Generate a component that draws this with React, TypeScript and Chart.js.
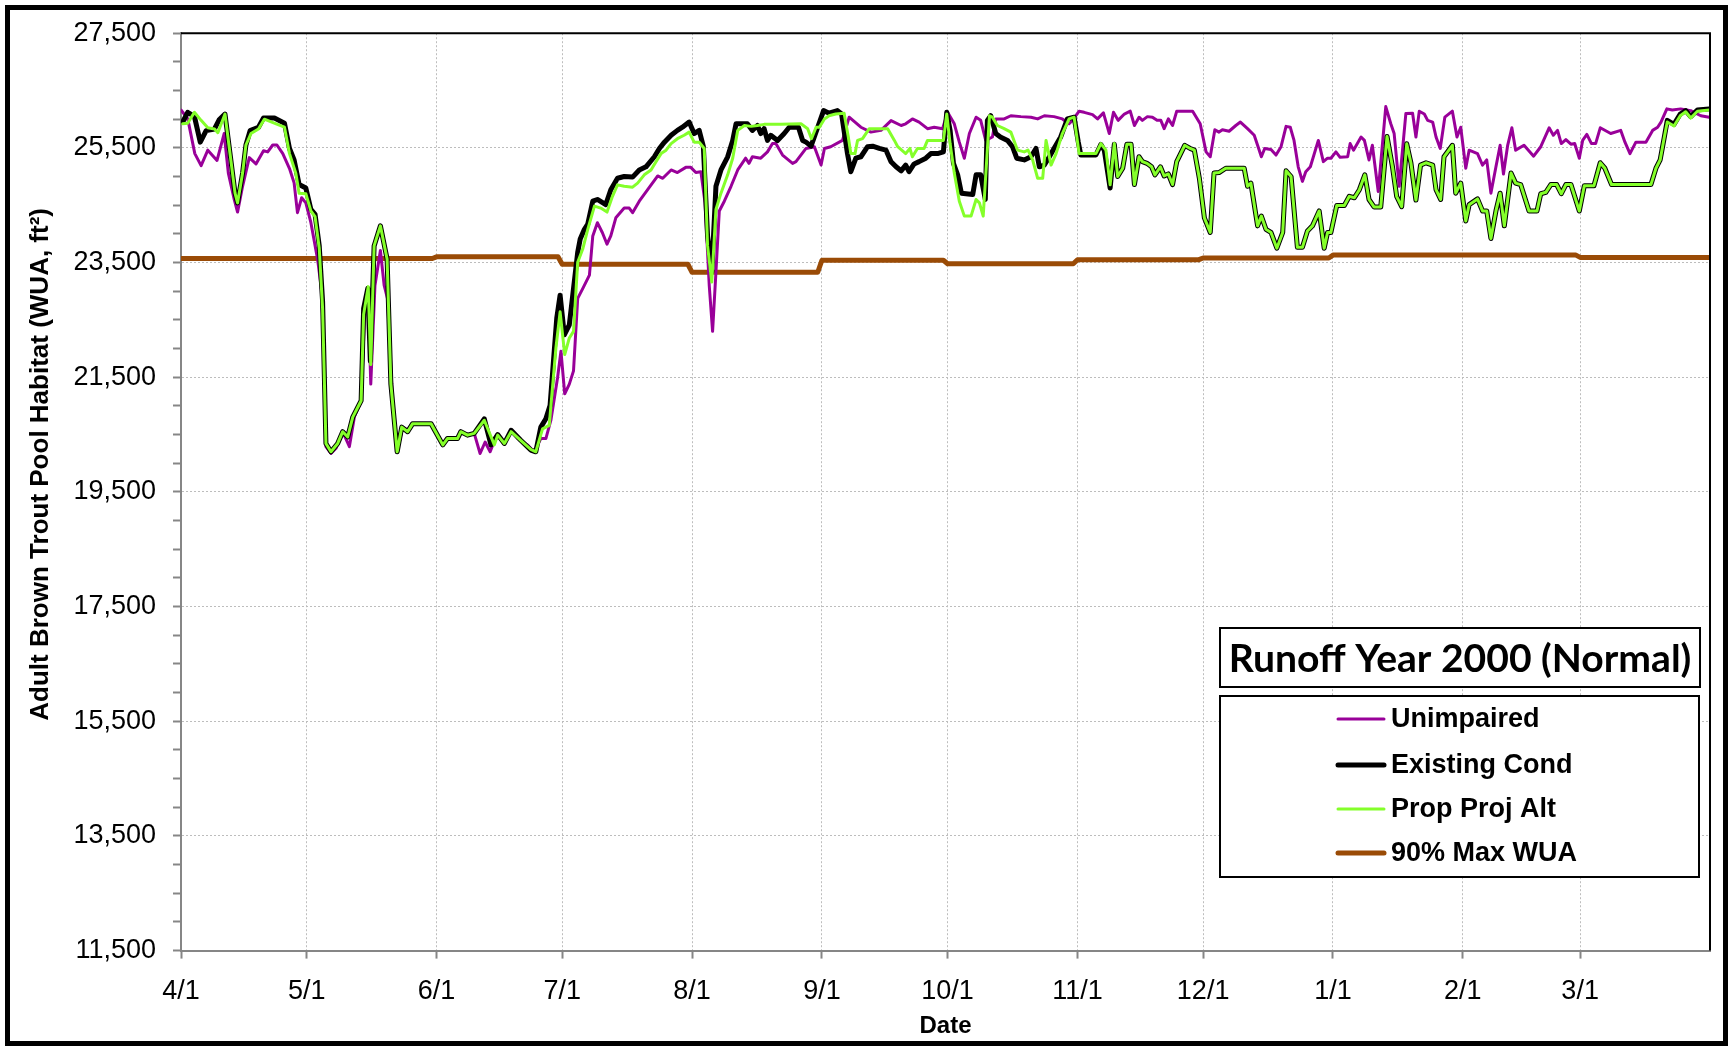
import { useEffect, useRef } from 'react';
import { Chart, registerables } from 'chart.js';

Chart.register(...registerables);

// ---------- axis definitions ----------
const monthTickDays = [0, 30, 61, 91, 122, 153, 183, 214, 244, 275, 306, 334];
const monthTickLabels = ['4/1', '5/1', '6/1', '7/1', '8/1', '9/1', '10/1', '11/1', '12/1', '1/1', '2/1', '3/1'];
const xMaxDay = 365;
const yMajorTicks = [11500, 13500, 15500, 17500, 19500, 21500, 23500, 25500, 27500];
const yMinorStep = 500;

const seriesLabels = ['Unimpaired', 'Existing Cond', 'Prop Proj Alt', '90% Max WUA'];
const seriesColors = ['#990099', '#000000', '#84ff2a', '#9a4b06'];
const seriesWidths = [3, 5, 3, 5];

// ---------- data (day offset from 4/1, WUA ft²) ----------
const unimpairedDays = [
  0, 1.6, 3.3, 4.8, 6.4, 8.6, 10.3, 11.3, 12.7, 13.5, 14.7, 16.3, 17.9, 19.7, 20.7, 21.9, 22.9, 24.3, 25.9, 27.0,
  27.8, 28.8, 29.8, 31.0, 32.6, 33.6, 34.2, 34.6, 35.8, 37.0, 38.6, 40.2, 41.4, 43.0, 43.8, 44.7, 45.3, 46.3, 47.6, 48.5,
  49.3, 50.5, 51.7, 52.9, 54.1, 55.3, 59.7, 62.5, 63.6, 66.0, 66.8, 68.4, 70.0, 71.4, 72.6, 73.8, 75.4, 77.2, 78.8, 80.4,
  82.7, 84.3, 85.9, 87.1, 88.3, 89.9, 90.7, 91.6, 92.7, 93.7, 94.7, 95.9, 97.5, 98.3, 99.4, 100.6, 101.7, 102.6, 103.8, 105.8,
  107.0, 107.8, 109.4, 111.4, 113.8, 115.0, 117.0, 118.5, 120.5, 121.7, 122.9, 124.1, 125.1, 126.1, 126.9, 127.7, 128.5, 129.7, 131.3, 132.9,
  134.8, 135.6, 136.4, 138.4, 140.0, 141.2, 142.0, 143.6, 146.0, 146.8, 149.2, 151.2, 152.8, 153.6, 155.1, 157.9, 159.5, 162.3, 164.7, 167.1,
  169.5, 171.9, 173.0, 174.6, 176.2, 178.2, 179.8, 181.8, 183.0, 184.6, 185.8, 187.0, 188.2, 189.8, 190.9, 192.1, 193.7, 194.5, 196.5, 198.1,
  200.5, 202.9, 204.5, 206.1, 208.4, 210.4, 212.0, 212.8, 214.4, 215.6, 217.6, 218.8, 220.2, 221.6, 222.6, 223.7, 225.2, 226.6, 227.6, 228.7,
  229.5, 230.7, 231.9, 233.0, 233.9, 234.7, 235.7, 236.7, 237.7, 241.5, 243.3, 244.7, 245.7, 246.8, 247.8, 248.6, 250.2, 251.8, 252.9, 254.6,
  256.2, 257.0, 257.9, 258.7, 260.2, 261.4, 262.6, 263.8, 264.8, 265.7, 266.7, 267.7, 268.5, 269.6, 271.5, 272.7, 273.7, 274.5, 275.7, 276.7,
  278.5, 279.1, 279.9, 281.7, 282.5, 283.6, 284.4, 285.8, 287.6, 288.8, 289.6, 290.8, 292.4, 294.0, 294.8, 295.6, 296.8, 297.6, 298.8, 299.6,
  300.6, 301.7, 303.5, 304.6, 305.5, 306.7, 307.5, 309.5, 310.7, 311.7, 312.7, 313.9, 314.9, 315.7, 316.7, 317.7, 318.6, 320.6, 322.9, 324.6,
  326.6, 327.6, 328.6, 329.5, 330.6, 331.8, 332.7, 333.8, 334.6, 335.6, 336.7, 337.7, 338.8, 341.3, 343.7, 344.7, 345.9, 347.3, 349.7, 351.3,
  352.5, 353.3, 354.7, 356.0, 358.0, 360.4, 362.8, 364.8,
];
const unimpairedWUA = [
  26160, 26010, 25400, 25190, 25460, 25280, 25750, 25060, 24600, 24380, 24830, 25330, 25220, 25450, 25430, 25550, 25550, 25400, 25140, 24890,
  24370, 24630, 24540, 24200, 23560, 22990, 21670, 20290, 20170, 20260, 20550, 20290, 20810, 21090, 22530, 22930, 21380, 23100, 23710, 23100,
  22870, 21090, 20230, 20630, 20580, 20690, 20690, 20320, 20430, 20430, 20550, 20490, 20520, 20170, 20370, 20200, 20500, 20345, 20575, 20430,
  20320, 20200, 20430, 20430, 20750, 21495, 21955, 21210, 21380, 21610, 22875, 23045, 23280, 23965, 24195, 24020, 23820, 23965, 24280, 24450,
  24450, 24370, 24570, 24770, 25010, 24970, 25115, 25070, 25160, 25160, 25070, 25085, 24540, 23100, 22300, 23335, 24400, 24570, 24830, 25115,
  25320, 25230, 25345, 25320, 25430, 25575, 25575, 25375, 25230, 25260, 25490, 25520, 25200, 25490, 25520, 25630, 26035, 25860, 25775, 25805,
  25975, 25890, 25920, 26005, 25950, 25835, 25860, 25835, 26120, 25920, 25600, 25320, 25750, 26035, 25980, 25630, 25690, 26005, 26005, 26060,
  26045, 26035, 26005, 26060, 26045, 26005, 25920, 25980, 26140, 26120, 26080, 26005, 26110, 25750, 26120, 25980, 26090, 26140, 25890, 26035,
  25980, 26045, 26035, 25980, 25980, 25835, 26005, 25890, 26140, 26140, 25920, 25430, 25345, 25815, 25775, 25815, 25790, 25890, 25950, 25835,
  25720, 25545, 25345, 25490, 25470, 25375, 25520, 25875, 25860, 25630, 25170, 24915, 25085, 25170, 25630, 25260, 25320, 25320, 25430, 25335,
  25345, 25575, 25460, 25690, 25630, 25290, 25545, 24740, 26220, 25920, 25750, 24830, 26100, 26105, 25690, 26140, 26090, 25980, 25950, 25690,
  25490, 26035, 26140, 25690, 25860, 25145, 25460, 25400, 25200, 25290, 24710, 25170, 25545, 25045, 25545, 25850, 25460, 25545, 25355, 25520,
  25850, 25720, 25805, 25575, 25645, 25565, 25575, 25320, 25630, 25735, 25575, 25575, 25850, 25750, 25805, 25600, 25400, 25600, 25600, 25805,
  25860, 25950, 26180, 26160, 26180, 26150, 26060, 26035,
];

const existingDays = [
  0.4, 1.6, 3.2, 4.6, 6.0, 8.0, 9.1, 10.5, 11.8, 12.9, 13.5, 14.7, 15.5, 16.5, 18.5, 19.7, 22.3, 24.7, 25.9, 27.0,
  28.2, 29.8, 31.0, 32.0, 33.0, 33.8, 34.6, 35.8, 37.4, 38.6, 39.8, 41.0, 43.0, 43.6, 44.6, 45.2, 46.1, 47.6, 49.2, 50.1,
  51.6, 52.7, 54.1, 55.3, 59.7, 62.5, 63.6, 66.0, 66.8, 68.4, 70.0, 72.4, 74.0, 75.6, 77.2, 78.8, 81.1, 83.5, 84.7, 85.9,
  87.1, 88.1, 89.7, 90.5, 91.5, 92.7, 93.7, 94.7, 95.3, 96.3, 97.1, 98.3, 99.4, 101.4, 102.6, 104.2, 105.8, 107.8, 109.4, 111.0,
  113.0, 114.2, 115.4, 117.0, 118.5, 119.7, 121.3, 122.5, 123.7, 124.7, 125.7, 126.7, 127.7, 128.9, 130.5, 131.7, 132.5, 135.2, 136.4, 137.6,
  138.4, 139.2, 140.0, 140.8, 142.4, 144.0, 145.2, 147.4, 148.4, 149.2, 150.4, 152.0, 153.4, 154.7, 156.7, 157.7, 159.1, 159.9, 161.1, 162.3,
  163.9, 165.1, 166.7, 168.3, 169.5, 170.7, 171.9, 173.0, 173.8, 175.0, 176.2, 177.8, 179.0, 180.6, 182.0, 182.8, 183.6, 184.4, 185.4, 186.3,
  189.0, 189.8, 190.9, 192.0, 192.5, 193.3, 194.5, 195.6, 197.3, 198.5, 199.5, 201.3, 202.9, 204.1, 204.9, 206.1, 207.3, 208.4, 210.0, 211.6,
  213.2, 214.2, 214.8, 218.4, 219.6, 220.4, 221.8, 222.8, 223.6, 224.8, 225.8, 226.8, 227.6, 228.7, 229.5, 230.6, 231.7, 232.5, 233.8, 234.7,
  235.7, 236.7, 237.7, 239.6, 240.9, 241.9, 243.1, 244.3, 245.7, 246.6, 247.8, 249.4, 253.8, 254.6, 255.4, 257.0, 257.9, 259.0, 260.2, 261.6,
  263.0, 263.8, 265.0, 266.5, 267.7, 268.9, 270.1, 271.7, 272.9, 273.7, 274.5, 275.9, 277.7, 278.9, 280.1, 281.3, 282.6, 283.6, 284.8, 286.4,
  287.9, 289.2, 290.2, 291.4, 292.6, 293.6, 294.8, 295.9, 297.2, 298.8, 299.6, 300.7, 301.5, 303.5, 304.3, 305.5, 306.7, 307.5, 309.5, 310.7,
  311.7, 312.7, 313.9, 314.9, 315.9, 317.5, 318.6, 319.8, 321.8, 323.7, 324.6, 325.8, 327.0, 328.4, 329.5, 330.6, 331.8, 333.8, 335.0, 337.3,
  338.8, 339.9, 341.5, 350.9, 352.1, 353.1, 354.1, 354.8, 356.4, 357.9, 359.2, 360.4, 362.0, 364.8,
];
const existingWUA = [
  25950, 26120, 26050, 25600, 25800, 25830, 25990, 26090, 25345, 24710, 24540, 25060, 25550, 25800, 25860, 26020, 26020, 25930, 25490, 25290,
  24860, 24800, 24430, 24340, 23790, 22820, 20345, 20200, 20345, 20550, 20460, 20805, 21090, 22700, 23050, 21780, 23790, 24140, 23560, 21380,
  20200, 20630, 20550, 20690, 20690, 20320, 20430, 20430, 20550, 20490, 20520, 20775, 20320, 20500, 20345, 20575, 20400, 20230, 20200, 20630,
  20775, 21005, 22530, 22930, 22240, 22415, 23045, 23680, 23910, 24080, 24170, 24570, 24600, 24510, 24770, 24970, 25000, 24990, 25115, 25170,
  25345, 25490, 25600, 25720, 25805, 25860, 25950, 25750, 25805, 25520, 23965, 23335, 24830, 25115, 25345, 25630, 25920, 25920, 25805, 25890,
  25750, 25835, 25630, 25720, 25630, 25750, 25860, 25860, 25630, 25600, 25530, 25860, 26150, 26105, 26150, 26090, 25400, 25085, 25320, 25345,
  25520, 25530, 25490, 25460, 25260, 25170, 25100, 25200, 25085, 25220, 25260, 25320, 25400, 25400, 25430, 26120, 25805, 25230, 25030, 24710,
  24685, 25030, 25030, 24600, 25980, 26060, 25750, 25690, 25630, 25520, 25320, 25290, 25345, 25490, 25170, 25200, 25345, 25490, 25690, 26005,
  26035, 25600, 25375, 25375, 25560, 25460, 24800, 25565, 25000, 25145, 25565, 25565, 24860, 25345, 25260, 25230, 25170, 25030, 25170, 25010,
  25045, 24860, 25260, 25545, 25490, 25460, 24970, 24280, 24025, 25060, 25070, 25145, 25145, 24830, 24885, 24140, 24310, 24080, 24025, 23750,
  24025, 25100, 25000, 23765, 23765, 24050, 24140, 24400, 23750, 24025, 24025, 24495, 24495, 24655, 24630, 24770, 25030, 24600, 24470, 24470,
  25700, 25170, 24655, 24475, 25570, 25240, 24590, 25200, 25240, 25200, 24770, 24600, 25345, 25545, 24710, 24885, 24225, 24510, 24610, 24400,
  24400, 23920, 24400, 24710, 24140, 25060, 24885, 24860, 24400, 24400, 24700, 24725, 24860, 24860, 24700, 24860, 24860, 24400, 24840, 24840,
  25240, 25145, 24860, 24860, 25145, 25290, 25690, 25980, 25910, 26090, 26150, 26045, 26160, 26180,
];

const propDays = [
  0.4, 1.6, 3.2, 4.8, 6.4, 8.0, 8.8, 10.5, 11.8, 12.9, 13.5, 14.7, 15.5, 16.7, 18.5, 19.9, 23.0, 24.7, 25.9, 27.4,
  28.2, 29.8, 31.0, 32.0, 33.0, 33.8, 34.6, 35.8, 37.4, 38.6, 39.8, 41.0, 43.0, 43.6, 44.7, 45.3, 46.1, 47.6, 49.2, 50.1,
  51.6, 52.7, 54.1, 55.3, 59.7, 62.5, 63.6, 66.0, 66.8, 68.4, 70.0, 72.4, 74.8, 75.6, 77.2, 78.8, 81.1, 83.5, 84.7, 86.3,
  87.9, 89.5, 90.5, 91.6, 92.7, 93.7, 94.7, 95.9, 97.1, 98.7, 100.2, 101.7, 103.0, 104.2, 105.8, 107.8, 109.0, 110.6, 112.2, 113.4,
  114.6, 115.8, 117.0, 118.5, 120.1, 121.3, 122.5, 123.7, 124.9, 125.7, 126.7, 127.7, 128.9, 130.5, 131.7, 132.9, 134.5, 136.1, 137.6, 139.2,
  143.2, 148.0, 149.6, 150.5, 151.6, 152.4, 153.6, 154.7, 156.3, 158.3, 159.3, 159.9, 160.9, 161.5, 162.7, 164.3, 168.7, 170.3, 171.1, 173.0,
  174.0, 174.6, 175.8, 177.4, 178.2, 182.0, 182.8, 183.6, 184.6, 185.8, 187.0, 188.6, 189.8, 190.6, 191.5, 193.0, 193.7, 194.9, 196.5, 198.1,
  199.7, 201.3, 202.2, 203.3, 204.5, 205.7, 206.5, 207.7, 208.9, 210.4, 212.0, 213.2, 214.4, 218.4, 219.6, 220.8, 221.8, 222.8, 223.6, 224.8,
  225.8, 226.8, 227.6, 228.7, 229.5, 230.6, 231.7, 232.5, 233.8, 234.7, 235.7, 236.7, 237.7, 239.6, 240.9, 241.9, 243.1, 244.3, 245.7, 246.6,
  247.8, 249.4, 253.8, 254.6, 255.4, 257.0, 257.9, 259.0, 260.2, 261.6, 263.0, 263.8, 265.0, 266.5, 267.7, 268.9, 270.1, 271.7, 272.9, 273.7,
  274.5, 275.9, 277.7, 278.9, 280.1, 281.3, 282.6, 283.6, 284.8, 286.4, 287.9, 289.2, 290.2, 291.4, 292.6, 293.6, 294.8, 295.9, 297.2, 298.8,
  299.6, 300.7, 301.5, 303.5, 304.3, 305.5, 306.7, 307.5, 309.5, 310.7, 311.7, 312.7, 313.9, 314.9, 315.9, 317.5, 318.6, 319.8, 321.8, 323.7,
  324.6, 325.8, 327.0, 328.4, 329.5, 330.6, 331.8, 333.8, 335.0, 337.3, 338.8, 339.9, 341.5, 350.9, 352.1, 353.1, 354.1, 354.8, 356.4, 357.9,
  359.2, 360.4, 362.0, 364.8,
];
const propWUA = [
  25920, 25930, 26120, 25980, 25850, 25830, 25765, 26090, 25345, 24710, 24540, 25060, 25550, 25750, 25830, 26000, 25910, 25860, 25400, 25060,
  24710, 24700, 24400, 24300, 23750, 22700, 20345, 20200, 20345, 20550, 20460, 20805, 21090, 22600, 23080, 21720, 23790, 24140, 23560, 21380,
  20200, 20630, 20550, 20690, 20690, 20320, 20430, 20430, 20550, 20490, 20520, 20750, 20320, 20490, 20345, 20550, 20400, 20240, 20200, 20600,
  20660, 22010, 22640, 21895, 22185, 22300, 23505, 23735, 24080, 24485, 24450, 24380, 24655, 24855, 24830, 24815, 24885, 25030, 25115, 25260,
  25400, 25460, 25575, 25660, 25720, 25775, 25600, 25600, 25490, 23790, 23160, 24425, 24710, 25030, 25320, 25805, 25890, 25875, 25890, 25910,
  25910, 25920, 25835, 25660, 25860, 25860, 26005, 26060, 26090, 26105, 25690, 25400, 25400, 25630, 25660, 25835, 25835, 25630, 25520, 25400,
  25490, 25345, 25490, 25490, 25630, 25630, 26090, 25575, 25060, 24570, 24310, 24310, 24600, 24540, 24310, 26060, 26035, 25890, 25835, 25775,
  25460, 25430, 25460, 25290, 24970, 24970, 25630, 25200, 25400, 25750, 26005, 26035, 25400, 25400, 25575, 25460, 24855, 25575, 25000, 25145,
  25565, 25565, 24860, 25345, 25260, 25230, 25170, 25030, 25170, 25010, 25045, 24860, 25260, 25545, 25490, 25460, 24970, 24280, 24025, 25060,
  25070, 25145, 25145, 24830, 24885, 24140, 24310, 24080, 24025, 23750, 24025, 25100, 25000, 23765, 23765, 24050, 24140, 24400, 23750, 24025,
  24025, 24495, 24495, 24655, 24630, 24770, 25030, 24600, 24470, 24470, 25700, 25170, 24655, 24475, 25570, 25240, 24590, 25200, 25240, 25200,
  24770, 24600, 25345, 25545, 24710, 24885, 24225, 24510, 24610, 24400, 24400, 23920, 24400, 24710, 24140, 25060, 24885, 24860, 24400, 24400,
  24700, 24725, 24860, 24860, 24700, 24860, 24860, 24400, 24840, 24840, 25240, 25145, 24860, 24860, 25145, 25290, 25690, 25950, 25880, 26060,
  26130, 26020, 26140, 26160,
];

const maxWUADays = [0, 60, 61, 90, 91, 121, 122, 152, 153, 182, 183, 213, 214, 243, 244, 274, 275, 333, 334, 364.8];
const maxWUAValues = [
  23570, 23570, 23600, 23600, 23470, 23470, 23330, 23330, 23540, 23540,
  23480, 23480, 23550, 23550, 23580, 23580, 23630, 23630, 23590, 23590,
];

const toPoints = (days: number[], vals: number[]) => days.map((d, i) => ({ x: d, y: vals[i] }));

const AXIS_FONT = "'Liberation Sans', Arial, sans-serif";
const AXIS_GRAY = '#868686';
const GRID_GRAY = '#bdbdbd';

const overlayPlugin = {
  id: 'overlay',
  afterDraw(chart: any) {
    const { ctx, chartArea: a } = chart;
    ctx.save();
    // plot area border (top & right)
    ctx.strokeStyle = '#000';
    ctx.lineWidth = 2;
    ctx.beginPath();
    ctx.moveTo(a.left, a.top);
    ctx.lineTo(a.right, a.top);
    ctx.lineTo(a.right, a.bottom);
    ctx.stroke();

    // outer chart border
    ctx.lineWidth = 5;
    ctx.strokeRect(7.5, 7.5, 1718, 1036);

    // y-axis title
    ctx.save();
    ctx.translate(41, 208);
    ctx.rotate(-Math.PI / 2);
    ctx.fillStyle = '#000';
    ctx.font = `bold 26px ${AXIS_FONT}`;
    ctx.textAlign = 'right';
    ctx.textBaseline = 'middle';
    ctx.fillText('Adult Brown Trout Pool Habitat (WUA, ft²)', 0, 0);
    ctx.restore();

    // legend title box
    ctx.fillStyle = '#fff';
    ctx.fillRect(1220, 628, 480, 59);
    ctx.strokeStyle = '#000';
    ctx.lineWidth = 2;
    ctx.strokeRect(1220, 628, 480, 59);
    const titleText = 'Runoff Year 2000 (Normal)';
    ctx.font = "bold 38px Lato, 'Liberation Sans', sans-serif";
    const w = ctx.measureText(titleText).width;
    const fs = Math.min(40, (38 * 463) / w);
    ctx.font = `bold ${fs.toFixed(1)}px Lato, 'Liberation Sans', sans-serif`;
    ctx.fillStyle = '#000';
    ctx.textAlign = 'center';
    ctx.textBaseline = 'middle';
    ctx.fillText(titleText, 1460, 659);

    // legend box
    ctx.fillStyle = '#fff';
    ctx.fillRect(1220, 696, 479, 181);
    ctx.strokeRect(1220, 696, 479, 181);
    ctx.font = `bold 27px ${AXIS_FONT}`;
    ctx.textAlign = 'left';
    const rowY = [719, 765, 809, 853];
    chart.data.datasets.forEach((ds: any, i: number) => {
      const y = rowY[i];
      ctx.strokeStyle = ds.borderColor;
      ctx.lineWidth = ds.borderWidth;
      ctx.lineCap = 'round';
      ctx.beginPath();
      ctx.moveTo(1338, y);
      ctx.lineTo(1384, y);
      ctx.stroke();
      ctx.fillStyle = '#000';
      ctx.fillText(ds.label, 1391, y + 1);
    });
    ctx.restore();
  },
};

export default function App() {
  const canvasRef = useRef<HTMLCanvasElement | null>(null);

  useEffect(() => {
    document.body.style.margin = '0';
    const canvas = canvasRef.current;
    if (!canvas) return;
    const seriesPoints = [
      toPoints(unimpairedDays, unimpairedWUA),
      toPoints(existingDays, existingWUA),
      toPoints(propDays, propWUA),
      toPoints(maxWUADays, maxWUAValues),
    ];
    const drawOrder = [3, 2, 1, 4];
    const chart = new Chart(canvas, {
      type: 'line',
      data: {
        datasets: seriesLabels.map((label, i) => ({
          label,
          data: seriesPoints[i],
          borderColor: seriesColors[i],
          backgroundColor: seriesColors[i],
          borderWidth: seriesWidths[i],
          pointRadius: 0,
          tension: 0,
          fill: false,
          borderJoinStyle: 'round' as const,
          borderCapStyle: 'round' as const,
          order: drawOrder[i],
        })),
      },
      options: {
        animation: false,
        responsive: false,
        devicePixelRatio: 1,
        layout: { padding: { left: 0, top: 25, right: 20, bottom: 0 } },
        plugins: { legend: { display: false }, tooltip: { enabled: false } },
        scales: {
          x: {
            type: 'linear',
            min: 0,
            max: xMaxDay,
            afterBuildTicks: (s: any) => {
              s.ticks = monthTickDays.map((v) => ({ value: v }));
            },
            afterFit: (s: any) => {
              s.height = 95.4;
            },
            ticks: {
              autoSkip: false,
              maxRotation: 0,
              minRotation: 0,
              padding: 17,
              color: '#000',
              font: { family: AXIS_FONT, size: 27 },
              callback: (v: any) => {
                const idx = monthTickDays.indexOf(Number(v));
                return idx >= 0 ? monthTickLabels[idx] : '';
              },
            },
            grid: {
              color: (c: any) => (c.tick && c.tick.value === 0 ? 'rgba(0,0,0,0)' : GRID_GRAY),
              lineWidth: 1,
              tickColor: AXIS_GRAY,
              tickLength: 8,
              tickWidth: 2,
            },
            border: { color: AXIS_GRAY, width: 2, dash: [2, 2] },
            title: {
              display: true,
              text: 'Date',
              color: '#000',
              font: { family: AXIS_FONT, size: 24, weight: 'bold' },
              padding: { top: 0, bottom: 5 },
            },
          },
          y: {
            type: 'linear',
            min: yMajorTicks[0],
            max: yMajorTicks[yMajorTicks.length - 1],
            afterBuildTicks: (s: any) => {
              const t: { value: number }[] = [];
              for (let v = yMajorTicks[0]; v <= yMajorTicks[yMajorTicks.length - 1]; v += yMinorStep) t.push({ value: v });
              s.ticks = t;
            },
            afterFit: (s: any) => {
              s.width = 181;
            },
            ticks: {
              autoSkip: false,
              padding: 17,
              color: '#000',
              font: { family: AXIS_FONT, size: 27 },
              callback: (v: any) => (yMajorTicks.includes(Number(v)) ? Number(v).toLocaleString('en-US') : ''),
            },
            grid: {
              color: (c: any) =>
                c.tick && yMajorTicks.includes(c.tick.value) && c.tick.value !== yMajorTicks[0] ? GRID_GRAY : 'rgba(0,0,0,0)',
              lineWidth: 1,
              tickColor: AXIS_GRAY,
              tickLength: 8,
              tickWidth: 2,
            },
            border: { color: AXIS_GRAY, width: 2, dash: [2, 2] },
          },
        },
      },
      plugins: [overlayPlugin],
    } as any);
    return () => chart.destroy();
  }, []);

  return (
    <div style={{ width: 1730, height: 1046, position: 'relative' }}>
      <canvas ref={canvasRef} width={1730} height={1046} style={{ width: 1730, height: 1046, display: 'block' }} />
    </div>
  );
}
